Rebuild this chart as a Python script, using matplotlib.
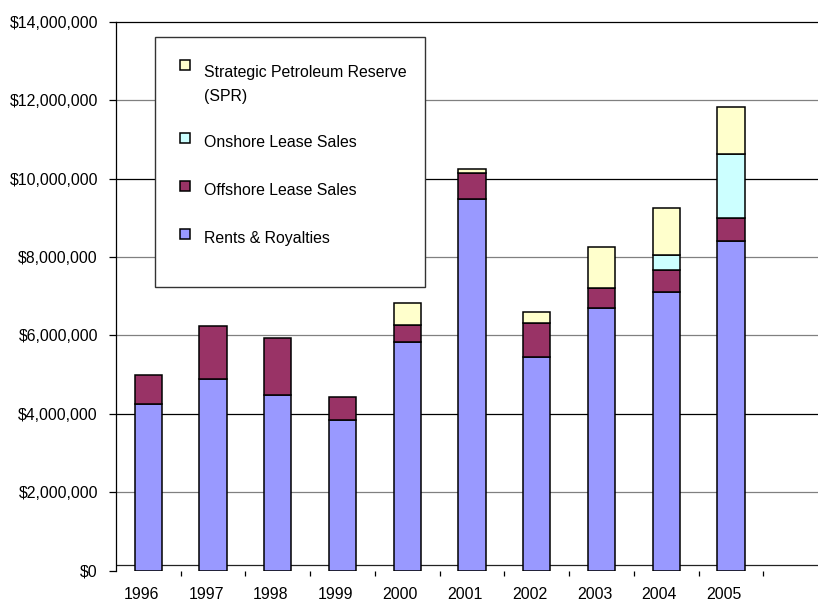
import matplotlib
matplotlib.use("Agg")
import matplotlib.pyplot as plt
import matplotlib.transforms as mtransforms
from matplotlib.patches import Rectangle
from matplotlib.ticker import FuncFormatter, FixedLocator
import numpy as np

plt.rcParams['font.family'] = ['Liberation Sans', 'DejaVu Sans']

years = ["1996", "1997", "1998", "1999", "2000", "2001", "2002", "2003", "2004", "2005"]
rents = [4.26e6, 4.88e6, 4.47e6, 3.85e6, 5.82e6, 9.49e6, 5.44e6, 6.71e6, 7.11e6, 8.41e6]
offshore = [0.72e6, 1.36e6, 1.47e6, 0.59e6, 0.44e6, 0.66e6, 0.88e6, 0.50e6, 0.57e6, 0.58e6]
onshore = [0, 0, 0, 0, 0, 0, 0, 0, 0.38e6, 1.65e6]
spr = [0, 0, 0, 0, 0.57e6, 0.09e6, 0.28e6, 1.04e6, 1.19e6, 1.20e6]

series = [
    ("Rents & Royalties", rents, "#9999FF"),
    ("Offshore Lease Sales", offshore, "#993366"),
    ("Onshore Lease Sales", onshore, "#CCFFFF"),
    ("Strategic Petroleum Reserve\n(SPR)", spr, "#FFFFCC"),
]

W, H = 818, 601
fig = plt.figure(figsize=(W / 100, H / 100), dpi=100)
ax_left, ax_right = 116, 828
ax_bot, ax_top = 570.5, 22
ax = fig.add_axes([ax_left / W, (H - ax_bot) / H, (ax_right - ax_left) / W, (ax_bot - ax_top) / H])

x = np.arange(len(years))
bottom = np.zeros(len(years))
for name, vals, col in series:
    v = np.array(vals)
    mask = v > 0
    ax.bar(x[mask], v[mask], bottom=bottom[mask], width=0.42, color=col,
           edgecolor="black", linewidth=1.1, zorder=3)
    bottom += v

ax.set_xlim(-0.5, 10.5)
ax.set_ylim(0, 14e6)

# gridlines
for g in [2e6, 4e6, 6e6, 8e6, 10e6, 12e6]:
    c = "#000000" if g in (4e6, 10e6) else "#808080"
    ax.axhline(g, color=c, linewidth=0.9, zorder=1)
# visible category axis line (drawn slightly above zero as in reference)
ax.axhline(0.15e6, color="#222222", linewidth=0.9, zorder=2)

for s in ["right", "bottom"]:
    ax.spines[s].set_visible(False)
ax.spines["left"].set_color("black")
ax.spines["left"].set_linewidth(0.9)
ax.spines["top"].set_color("black")
ax.spines["top"].set_linewidth(0.9)

ax.yaxis.set_major_locator(FixedLocator(np.arange(0, 14e6 + 1, 2e6)))
ax.yaxis.set_major_formatter(FuncFormatter(lambda v, p: "${:,.0f}".format(v)))
ax.tick_params(axis="y", direction="out", length=5, width=0.9, pad=8, labelsize=11.4, colors="black")

ax.set_xticks(x)
ax.set_xticklabels(years)
ax.set_xticks(np.arange(0.5, 10.5, 1.0), minor=True)
ax.tick_params(axis="x", which="major", length=0, pad=12, labelsize=11.4)
ax.tick_params(axis="x", which="minor", direction="out", length=3.6, width=0.9, color="black")
off = mtransforms.ScaledTranslation(-7 / 100, 0, fig.dpi_scale_trans)
for lab in ax.get_xticklabels():
    lab.set_transform(lab.get_transform() + off)

# legend (manual, to match layout)
lx0, lx1, ly0, ly1 = 155, 425, 37, 287
fig.patches.append(Rectangle((lx0 / W, (H - ly1) / H), (lx1 - lx0) / W, (ly1 - ly0) / H,
                             transform=fig.transFigure, facecolor="white", edgecolor="#333333",
                             linewidth=1.0, zorder=5))
leg_items = [
    (series[3][0], series[3][2], 65, 72),
    (series[2][0], series[2][2], 138, 142.5),
    (series[1][0], series[1][2], 186, 190.5),
    (series[0][0], series[0][2], 234, 238.5),
]
msz = 9.5
for name, col, my, ty in leg_items:
    fig.patches.append(Rectangle((180 / W, (H - my - msz / 2) / H), msz / W, msz / H,
                                 transform=fig.transFigure, facecolor=col, edgecolor="black",
                                 linewidth=1.1, zorder=6))
    lines = name.split("\n")
    for k, ln in enumerate(lines):
        fig.text(204 / W, (H - ty - 24 * k) / H, ln, fontsize=11.4, ha="left", va="center",
                 color="black", zorder=7)

fig.savefig("out.png", dpi=100)
